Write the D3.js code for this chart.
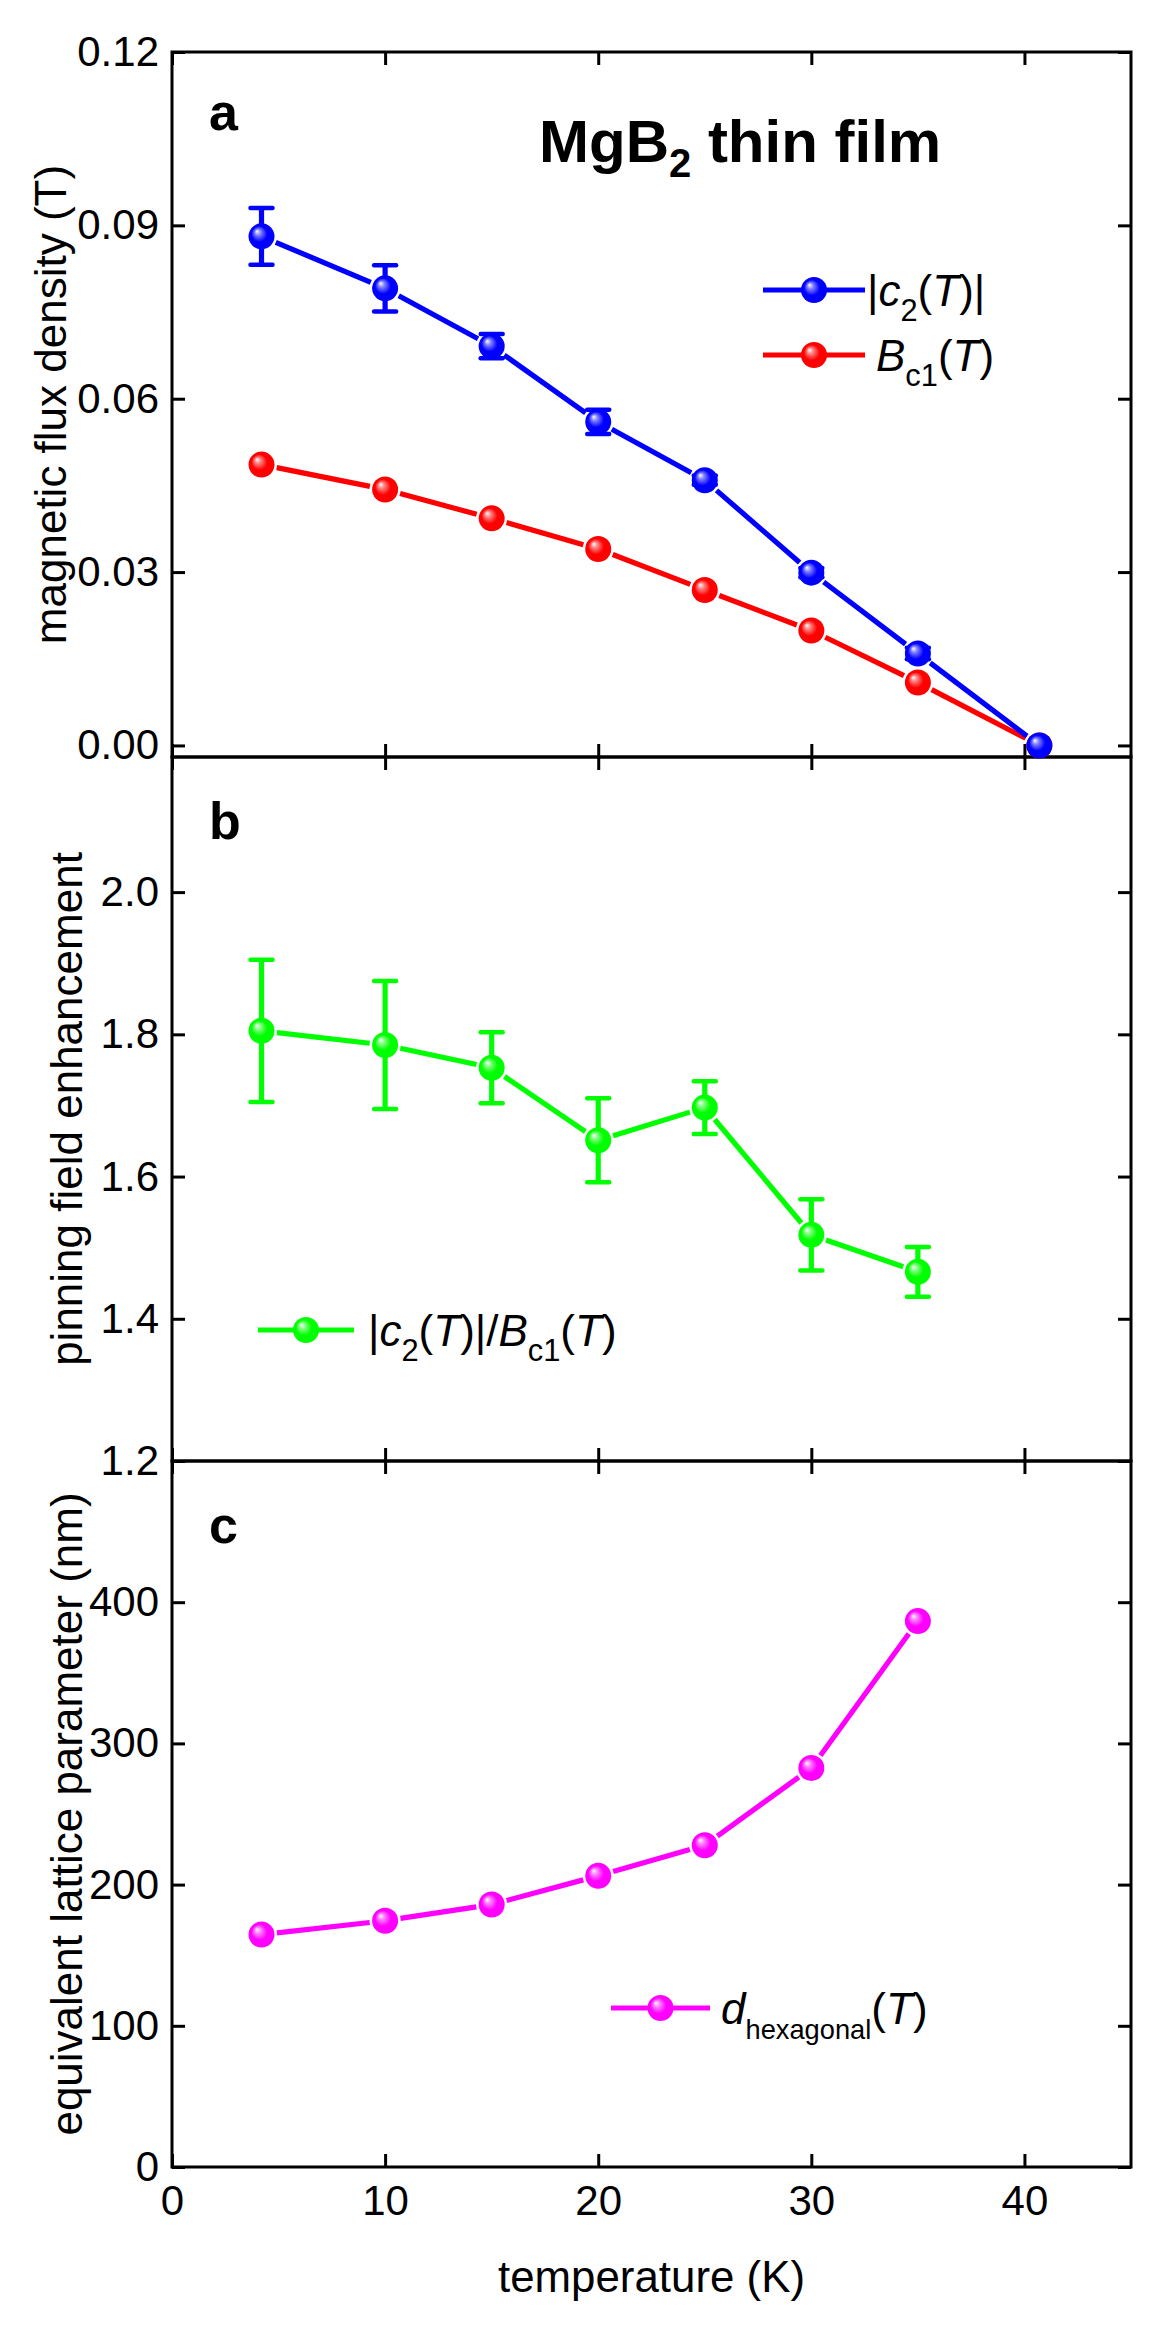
<!DOCTYPE html>
<html>
<head>
<meta charset="utf-8">
<script src="https://cdn.jsdelivr.net/npm/d3@7"></script>
<style>
  html, body { margin: 0; padding: 0; background: #fff; }
  svg { display: block; }
  text { font-family: "Liberation Sans", Arial, sans-serif; fill: #000; }
</style>
</head>
<body>
<script>
// ---------- data ----------
const temps     = [4.2, 10, 15, 20, 25, 30, 35, 40.7];
const c2Vals    = [0.0881, 0.0791, 0.0691, 0.0560, 0.0459, 0.0299, 0.0159, 0.0];
const c2Errs    = [0.0049, 0.0040, 0.0021, 0.0021, 0.0008, 0.0008, 0.0010, 0.0];
const bc1Vals   = [0.0486, 0.0443, 0.0393, 0.0340, 0.0269, 0.0199, 0.0109, 0.0];

const ratioTemps = [4.2, 10, 15, 20, 25, 30, 35];
const ratioVals  = [1.805, 1.785, 1.753, 1.651, 1.697, 1.518, 1.466];
const ratioErrs  = [0.100, 0.090, 0.050, 0.059, 0.037, 0.050, 0.035];

const dTemps = [4.2, 10, 15, 20, 25, 30, 35];
const dVals  = [164.6, 174.4, 185.9, 206.2, 227.9, 282.6, 386.6];

const xTicks  = [0, 10, 20, 30, 40];
const aTicks  = [0, 0.03, 0.06, 0.09, 0.12];
const bTicks  = [1.2, 1.4, 1.6, 1.8, 2.0];
const cTicks  = [0, 100, 200, 300, 400];

// ---------- layout ----------
const W = 1165, H = 2326;
const L = 172, R = 1131;
const panels = [
  {top: 52,  bottom: 757,  domain: [-0.002, 0.12], ticks: aTicks, fmt: d3.format(".2f"), label: "a", titleX: 66, title: "magnetic flux density (T)"},
  {top: 757, bottom: 1461, domain: [1.2, 2.19],    ticks: bTicks, fmt: d3.format(".1f"), label: "b", titleX: 82, title: "pinning field enhancement"},
  {top: 1461,bottom: 2167, domain: [0, 500],       ticks: cTicks, fmt: d3.format("d"),   label: "c", titleX: 82, title: "equivalent lattice parameter (nm)"}
];

const svg = d3.select("body").append("svg").attr("width", W).attr("height", H);
const defs = svg.append("defs");

function ball(id, color) {
  const g = defs.append("radialGradient").attr("id", id)
    .attr("cx", "50%").attr("cy", "50%").attr("r", "55%")
    .attr("fx", "32%").attr("fy", "30%");
  g.append("stop").attr("offset", "0%").attr("stop-color", "#ffffff");
  g.append("stop").attr("offset", "22%").attr("stop-color", d3.interpolateRgb("#ffffff", color)(0.5));
  g.append("stop").attr("offset", "55%").attr("stop-color", color);
  g.append("stop").attr("offset", "100%").attr("stop-color", color);
  return `url(#${id})`;
}
const BLUE = "#0000ff", RED = "#ff0000", GREEN = "#00ff00", MAG = "#ff00ff";
const fills = {
  [BLUE]: ball("gb", BLUE), [RED]: ball("gr", RED),
  [GREEN]: ball("gg", GREEN), [MAG]: ball("gm", MAG)
};

const x = d3.scaleLinear().domain([0, 45]).range([L, R]);
const RAD = 13;
const LW = 5.2;

panels.forEach(p => { p.y = d3.scaleLinear().domain(p.domain).range([p.bottom, p.top]); });

// ---------- axes ----------
panels.forEach((p, i) => {
  const g = svg.append("g");
  const yl = d3.axisLeft(p.y).tickValues(p.ticks).tickSize(-13).tickPadding(13).tickFormat(p.fmt);
  const gl = g.append("g").attr("transform", `translate(${L},0)`).call(yl);
  const yr = d3.axisRight(p.y).tickValues(p.ticks).tickSize(-13).tickFormat("");
  const gr = g.append("g").attr("transform", `translate(${R},0)`).call(yr);
  const xb = d3.axisBottom(x).tickValues(xTicks).tickSize(-13).tickPadding(18)
    .tickFormat(i === 2 ? d3.format("d") : "");
  const gb = g.append("g").attr("transform", `translate(0,${p.bottom})`).call(xb);
  const xt = d3.axisTop(x).tickValues(xTicks).tickSize(-13).tickFormat("");
  const gt = g.append("g").attr("transform", `translate(0,${p.top})`).call(xt);
  [gl, gr, gb, gt].forEach(a => {
    a.select(".domain").remove();
    a.selectAll(".tick line").attr("stroke", "#000").attr("stroke-width", 3);
    a.selectAll(".tick text").attr("font-size", 42).attr("fill", "#000")
      .attr("font-family", '"Liberation Sans", Arial, sans-serif');
  });
  gb.selectAll(".tick text").attr("dy", "0.71em");
  g.append("rect").attr("x", L).attr("y", p.top).attr("width", R - L).attr("height", p.bottom - p.top)
    .attr("fill", "none").attr("stroke", "#000").attr("stroke-width", 3);
  g.append("text").attr("transform", `translate(${p.titleX},${(p.top + p.bottom) / 2}) rotate(-90)`)
    .attr("text-anchor", "middle").attr("font-size", 44).text(p.title);
  g.append("text").attr("x", 209).attr("y", p.top + (i === 0 ? 78 : 82))
    .attr("font-size", 52).attr("font-weight", "bold").text(p.label);
});

// x title
svg.append("text").attr("x", (L + R) / 2).attr("y", 2292).attr("text-anchor", "middle")
  .attr("font-size", 44).attr("textLength", 307).attr("lengthAdjust", "spacingAndGlyphs")
  .text("temperature (K)");

// ---------- series drawing helpers ----------
function segments(g, pts, color) {
  for (let k = 0; k < pts.length - 1; k++) {
    const [x1, y1] = pts[k], [x2, y2] = pts[k + 1];
    const dx = x2 - x1, dy = y2 - y1, len = Math.hypot(dx, dy);
    const gap = RAD + 2.5;
    if (len <= 2 * gap) continue;
    const ux = dx / len, uy = dy / len;
    g.append("line")
      .attr("x1", x1 + ux * gap).attr("y1", y1 + uy * gap)
      .attr("x2", x2 - ux * gap).attr("y2", y2 - uy * gap)
      .attr("stroke", color).attr("stroke-width", LW).attr("stroke-linecap", "butt");
  }
}
function errorBars(g, xs, vals, errs, yScale, color) {
  xs.forEach((t, k) => {
    if (!errs[k]) return;
    const cx = x(t), yt = yScale(vals[k] + errs[k]), yb = yScale(vals[k] - errs[k]);
    g.append("line").attr("x1", cx).attr("x2", cx).attr("y1", yt).attr("y2", yb)
      .attr("stroke", color).attr("stroke-width", LW);
    [yt, yb].forEach(yy => g.append("line").attr("x1", cx - 11).attr("x2", cx + 11)
      .attr("y1", yy).attr("y2", yy).attr("stroke", color).attr("stroke-width", 4.5)
      .attr("stroke-linecap", "round"));
  });
}
function markers(g, xs, vals, yScale, color) {
  g.selectAll(null).data(xs.map((t, k) => [t, vals[k]])).enter().append("circle")
    .attr("cx", d => x(d[0])).attr("cy", d => yScale(d[1])).attr("r", RAD)
    .attr("fill", fills[color]);
}
function series(xs, vals, errs, yScale, color) {
  const g = svg.append("g");
  segments(g, xs.map((t, k) => [x(t), yScale(vals[k])]), color);
  if (errs) errorBars(g, xs, vals, errs, yScale, color);
  markers(g, xs, vals, yScale, color);
}
function legendLine(x1, x2, y, color) {
  const g = svg.append("g");
  g.append("line").attr("x1", x1).attr("x2", x2).attr("y1", y).attr("y2", y)
    .attr("stroke", color).attr("stroke-width", LW);
  g.append("circle").attr("cx", (x1 + x2) / 2).attr("cy", y).attr("r", RAD).attr("fill", fills[color]);
}
function richText(xp, yp, parts, size) {
  const t = svg.append("text").attr("x", xp).attr("y", yp).attr("font-size", size);
  let shift = 0;
  parts.forEach(pt => {
    const s = t.append("tspan").text(pt.t);
    if (pt.i) s.attr("font-style", "italic");
    const target = pt.sub ? 0.33 * size : 0;
    if (target !== shift) { s.attr("dy", target - shift); shift = target; }
    if (pt.sub) s.attr("font-size", size * (pt.sub === 2 ? 0.62 : 0.7));
  });
  return t;
}

// ---------- panel a ----------
const ya = panels[0].y;
series(temps, bc1Vals, null, ya, RED);
series(temps, c2Vals, c2Errs, ya, BLUE);

const title = svg.append("text").attr("x", 539).attr("y", 162).attr("font-size", 60).attr("font-weight", "bold");
title.append("tspan").text("MgB");
title.append("tspan").attr("font-size", 40).attr("dy", 15).text("2");
title.append("tspan").attr("dy", -15).text(" thin film");

legendLine(763, 865, 290, BLUE);
richText(867, 306, [{t: "|"}, {t: "c", i: 1}, {t: "2", sub: 1}, {t: "("}, {t: "T", i: 1}, {t: ")|"}], 44);
legendLine(763, 865, 355, RED);
richText(876, 371, [{t: "B", i: 1}, {t: "c1", sub: 1}, {t: "("}, {t: "T", i: 1}, {t: ")"}], 44);

// ---------- panel b ----------
const yb = panels[1].y;
series(ratioTemps, ratioVals, ratioErrs, yb, GREEN);
legendLine(258, 354, 1330, GREEN);
richText(368, 1346, [{t: "|"}, {t: "c", i: 1}, {t: "2", sub: 1}, {t: "("}, {t: "T", i: 1}, {t: ")|/"},
                     {t: "B", i: 1}, {t: "c1", sub: 1}, {t: "("}, {t: "T", i: 1}, {t: ")"}], 44);

// ---------- panel c ----------
const yc = panels[2].y;
series(dTemps, dVals, null, yc, MAG);
legendLine(611, 710, 2008, MAG);
richText(721, 2024, [{t: "d", i: 1}, {t: "hexagonal", sub: 2}, {t: "("}, {t: "T", i: 1}, {t: ")"}], 44);
</script>
</body>
</html>
